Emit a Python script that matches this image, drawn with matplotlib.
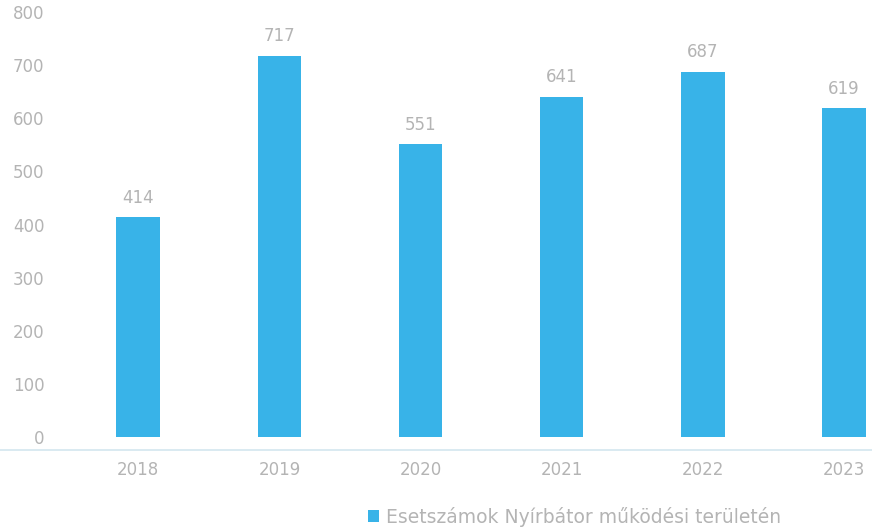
import matplotlib.pyplot as plt

years = ["2018", "2019", "2020", "2021", "2022", "2023"]
cases = [414, 717, 551, 641, 687, 619]
series_name = "Esetszámok Nyírbátor működési területén"

BAR_COLOR = "#38b3e8"
TEXT_COLOR = "#b4b4b4"

plt.rcParams["font.family"] = ["DejaVu Sans"]

fig = plt.figure(figsize=(8.72, 5.30), dpi=100)
# axes spans the whole width; left part holds the y labels
ax = fig.add_axes([0, 1 - 450 / 530, 1, (450 - 12) / 530])

x = list(range(len(years)))
bars = ax.bar(x, cases, width=0.31, color=BAR_COLOR, label=series_name, zorder=2)

for xi, v in zip(x, cases):
    ax.text(xi, v + 20, str(v), ha="center", va="bottom",
            fontsize=12, color=TEXT_COLOR)

ax.set_xlim(-0.98, 5.2)
ax.set_ylim(-24, 800)
ax.set_yticks(range(0, 801, 100))
ax.set_xticks(x)
ax.set_xticklabels(years)

ax.tick_params(axis="y", length=0, pad=-32, labelsize=12, labelcolor=TEXT_COLOR)
ax.tick_params(axis="x", length=0, pad=8, labelsize=12, labelcolor=TEXT_COLOR)

for side in ["top", "right", "left"]:
    ax.spines[side].set_visible(False)
ax.spines["bottom"].set_color("#d3e6ef")
ax.spines["bottom"].set_linewidth(1.2)

fig.legend(handles=[bars], labels=[series_name], loc="center",
           bbox_to_anchor=(0.659, 0.025), frameon=False, fontsize=13.5,
           labelcolor=TEXT_COLOR, handlelength=0.6, handleheight=0.6,
           handletextpad=0.4)

fig.savefig("out.png", dpi=100)
